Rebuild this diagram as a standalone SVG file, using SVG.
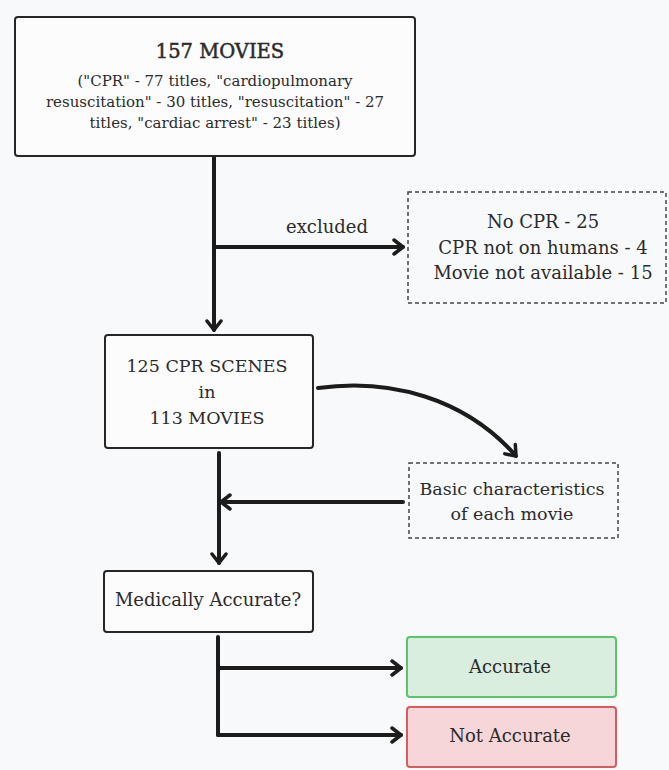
<svg xmlns="http://www.w3.org/2000/svg" width="669" height="770" viewBox="0 0 669 770">
<defs>
<style>
text{font-family:"DejaVu Serif","Liberation Serif",serif;fill:#2b2b2b;text-anchor:middle}
.box{fill:#fcfcfd;stroke:#262626;stroke-width:2}
.dash{fill:#f8f9fa;stroke:#444;stroke-width:1.5;stroke-dasharray:4 3}
.line{fill:none;stroke:#1c1c1c;stroke-width:4;stroke-linecap:round}
.arr{marker-end:url(#ah)}
</style>
<marker id="ah" viewBox="0 0 14 18" refX="12" refY="9" markerWidth="14" markerHeight="18" markerUnits="userSpaceOnUse" orient="auto">
<path d="M3,2 L12,9 L3,16" fill="none" stroke="#1c1c1c" stroke-width="3.5" stroke-linecap="round" stroke-linejoin="round"/>
</marker>
</defs>
<rect width="669" height="770" fill="#f8f9fa"/>
<g id="connectors">
<line class="line arr" x1="214" y1="157" x2="214" y2="330"/>
<line class="line arr" x1="216" y1="247" x2="403" y2="247"/>
<path class="line arr" d="M318,388 C390,378 465,398 516,456"/>
<line class="line arr" x1="219" y1="453" x2="219" y2="563"/>
<line class="line arr" x1="403" y1="502" x2="221" y2="502"/>
<line class="line" x1="218" y1="637" x2="218" y2="735"/>
<line class="line arr" x1="218" y1="668" x2="401" y2="668"/>
<line class="line arr" x1="218" y1="735" x2="401" y2="735"/>
<text x="327" y="233" font-size="18">excluded</text>
</g>
<g id="node-movies">
<rect class="box" x="15" y="17" width="400" height="139" rx="3"/>
<text x="220" y="58" font-size="19.5" stroke="#2b2b2b" stroke-width="0.5">157 MOVIES</text>
<text x="215" y="86" font-size="15">("CPR" - 77 titles, "cardiopulmonary</text>
<text x="215" y="107" font-size="15">resuscitation" - 30 titles, "resuscitation" - 27</text>
<text x="215" y="128" font-size="15">titles, "cardiac arrest" - 23 titles)</text>
</g>
<g id="node-excluded">
<rect class="dash" x="408" y="192" width="258" height="111"/>
<text x="543" y="228" font-size="18">No CPR - 25</text>
<text x="543" y="254" font-size="18">CPR not on humans - 4</text>
<text x="543" y="279" font-size="18">Movie not available - 15</text>
</g>
<g id="node-scenes">
<rect class="box" x="105" y="335" width="208" height="113" rx="3"/>
<text x="207" y="372" font-size="17.5">125 CPR SCENES</text>
<text x="207" y="398" font-size="17.5">in</text>
<text x="207" y="424" font-size="17.5">113 MOVIES</text>
</g>
<g id="node-basic">
<rect class="dash" x="409" y="463" width="209" height="75"/>
<text x="512" y="495" font-size="17.5">Basic characteristics</text>
<text x="512" y="520" font-size="17.5">of each movie</text>
</g>
<g id="node-medical">
<rect class="box" x="104" y="571" width="209" height="61" rx="3"/>
<text x="208" y="606" font-size="18">Medically Accurate?</text>
</g>
<g id="node-accurate">
<rect x="407" y="637" width="209" height="60" rx="3" fill="#d9eede" stroke="#5cc46a" stroke-width="2"/>
<text x="510" y="673" font-size="18">Accurate</text>
</g>
<g id="node-notaccurate">
<rect x="407" y="707" width="209" height="60" rx="3" fill="#f6d6d8" stroke="#d95c5c" stroke-width="2"/>
<text x="510" y="742" font-size="18">Not Accurate</text>
</g>
</svg>
